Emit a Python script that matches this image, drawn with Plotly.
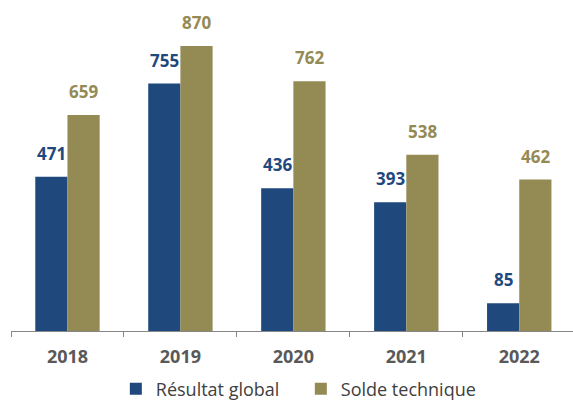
import plotly.graph_objects as go

years = ["2018", "2019", "2020", "2021", "2022"]
resultat_global = [471, 755, 436, 393, 85]
solde_technique = [659, 870, 762, 538, 462]

BLUE = "#1F497D"
GOLD = "#948A54"

fig = go.Figure()
fig.add_trace(go.Bar(name="Résultat global", x=years, y=resultat_global,
                     marker=dict(color=BLUE, line=dict(width=0))))
fig.add_trace(go.Bar(name="Solde technique", x=years, y=solde_technique,
                     marker=dict(color=GOLD, line=dict(width=0))))

annotations = []
for series, color, shift in ((resultat_global, BLUE, -16), (solde_technique, GOLD, 16)):
    for i, v in enumerate(series):
        annotations.append(dict(x=i, y=v, xref="x", yref="y", text=str(v),
                                showarrow=False, yanchor="bottom", xanchor="center",
                                xshift=shift, yshift=10,
                                font=dict(family="Open Sans", size=17, color=color, weight="bold")))

fig.update_layout(
    width=573, height=401,
    margin=dict(l=11, r=0, t=3, b=70, autoexpand=False),
    paper_bgcolor="white", plot_bgcolor="white",
    barmode="group", bargap=0.43, bargroupgap=0,
    annotations=annotations,
    showlegend=True,
    legend=dict(orientation="h", xref="container", yref="container",
                x=0.525, xanchor="center", y=12 / 401, yanchor="middle",
                font=dict(family="Open Sans", size=18, color="#404040"),
                itemwidth=30, entrywidth=140, traceorder="normal"),
    xaxis=dict(type="category", range=[-0.5, len(years) - 0.524],
               showline=True, linecolor="#868686", linewidth=1,
               ticks="outside", ticklen=5, tickcolor="#868686",
               tickson="boundaries", ticklabelstandoff=9,
               tickfont=dict(family="Open Sans", size=18, color="#595959", weight="bold"),
               showgrid=False, fixedrange=True),
    yaxis=dict(range=[0, 1001], visible=False, showgrid=False, zeroline=False),
)

fig.write_html("out.html", config={"displayModeBar": False},
               post_script="document.body.style.margin='0';document.body.style.padding='0';")
